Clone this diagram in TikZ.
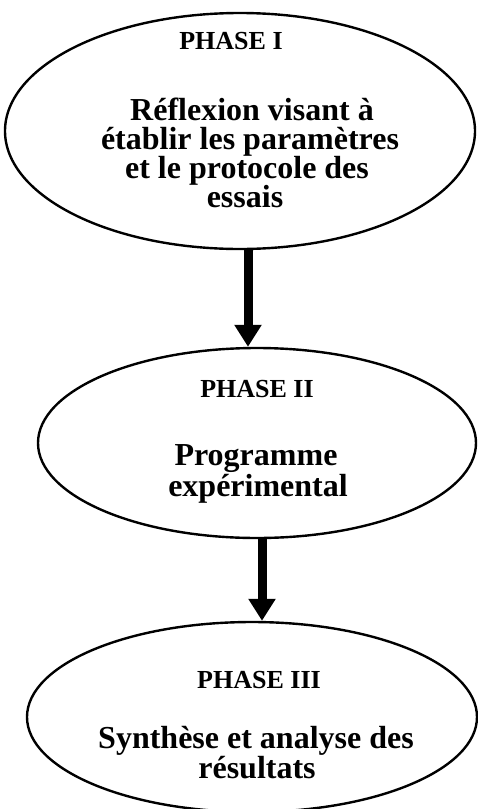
\documentclass[tikz,border=0pt]{standalone}
\usepackage{fontspec}
\setmainfont{Liberation Serif}
\usetikzlibrary{shapes.geometric,arrows.meta}
\begin{document}
\begin{tikzpicture}[x=1pt,y=-1pt,
  phase/.style={ellipse, draw, line width=2.4pt, inner sep=0pt},
  title/.style={anchor=base, inner sep=0pt, font=\bfseries\fontsize{26}{26}\selectfont},
  body/.style={anchor=base, inner sep=0pt, font=\bfseries\fontsize{32}{30}\selectfont},
  flow/.style={line width=9pt, -{Triangle[width=26pt,length=22pt]}}]
\useasboundingbox (0,0) rectangle (477,809);
% the three phases
\node[phase, minimum width=470pt, minimum height=236pt] (ph1) at (240,131) {};
\node[phase, minimum width=438pt, minimum height=190pt] (ph2) at (257,443) {};
\node[phase, minimum width=450pt, minimum height=190pt] (ph3) at (252,717) {};
% texts
\node[title] (t1) at (231,49) {PHASE I};
\node[body] (b1a) at (252,120) {Réflexion visant à};
\node[body] (b1b) at (250,149) {établir les paramètres};
\node[body] (b1c) at (247,178) {et le protocole des};
\node[body] (b1d) at (245,207) {essais};
\node[title] (t2) at (257,397) {PHASE II};
\node[body] (b2a) at (256,465) {Programme};
\node[body] (b2b) at (258,496) {expérimental};
\node[title] (t3) at (259,688) {PHASE III};
\node[body] (b3a) at (256,748) {Synthèse et analyse des};
\node[body] (b3b) at (257,778) {résultats};
% arrows
\draw[flow] ([xshift=8pt]ph1.south) -- ([xshift=-9pt]ph2.north);
\draw[flow] ([xshift=5pt]ph2.south) -- ([xshift=10pt]ph3.north);
\end{tikzpicture}
\end{document}
